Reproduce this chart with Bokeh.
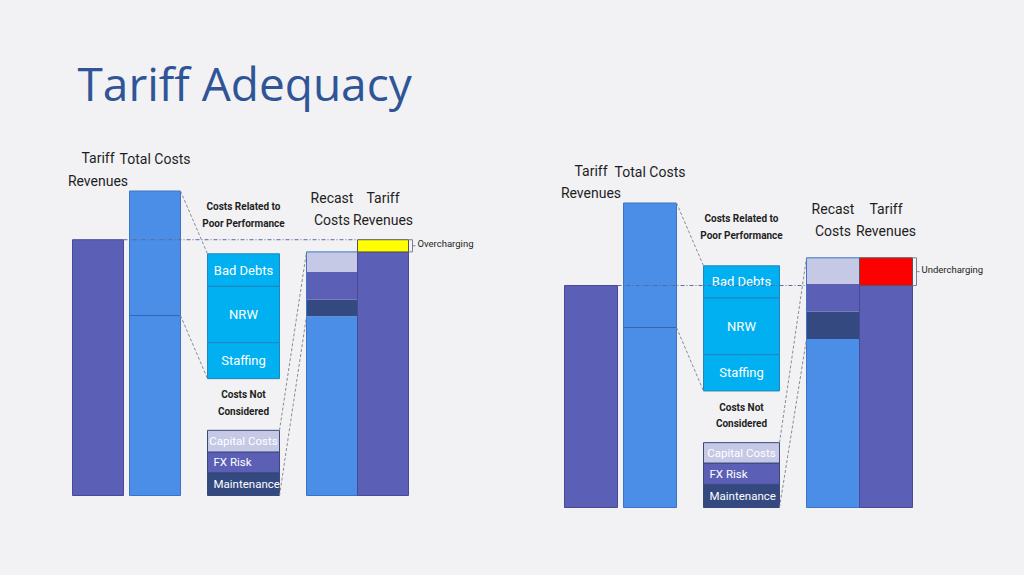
from bokeh.plotting import figure
from bokeh.models import Range1d
from bokeh.core.properties import value
from bokeh.embed import file_html
from bokeh.resources import INLINE

# ---------------- data (share of total costs, %) ----------------
title = "Tariff Adequacy"
column_labels = [["Tariff", "Revenues"], ["Total Costs"], ["Recast", "Costs"], ["Tariff", "Revenues"]]
group_titles = [["Costs Related to", "Poor Performance"], ["Costs Not", "Considered"]]
poor_labels = ["Bad Debts", "NRW", "Staffing"]                 # top -> bottom
not_considered_labels = ["Capital Costs", "FX Risk", "Maintenance"]  # top -> bottom
gap_labels = ["Overcharging", "Undercharging"]

tariff_revenues = [84.0, 72.9]
total_costs = [100.0, 100.0]
efficient_costs = [59.1, 59.1]
poor_left = [10.7, 18.5, 11.8]
poor_right = [10.6, 18.6, 11.9]
not_considered_left = [7.1, 6.8, 7.5]
not_considered_right = [6.7, 7.0, 7.6]
# recast costs, bottom -> top: efficient, maintenance, FX risk, capital costs
recast_left = [58.9, 5.5, 9.0, 6.6]
recast_right = [55.3, 9.1, 9.0, 8.6]

# ---------------- styling / layout ----------------
BG = "#f2f2f4"
PURPLE = "#5b5fb6"
BLUE = "#4a8ee8"
CYAN = "#00b0f0"
LAV = "#c6c9e6"
DARK = "#34497f"
TITLE_C = "#2f5597"
TXT = "#1e1e1e"
FONT = value("Roboto")
S = 3.045  # px per %

panels = [
    dict(tar=(72, 123), tot=(129, 180), box=(207, 279), rec=(306, 357), tr2=(357, 408),
         base=495, poor_top=253.3, head1=(157, 180), head2=(197, 219), grp1=(206, 223), grp2=(394, 411),
         poor=poor_left, nc=not_considered_left, rec_vals=recast_left, gap_color="#ffff00", gap_label=0),
    dict(tar=(564, 617), tot=(623, 676), box=(703, 779), rec=(806, 859), tr2=(859, 912),
         base=507, poor_top=265.3, head1=(170, 192), head2=(208, 230), grp1=(218, 235), grp2=(407, 423),
         poor=poor_right, nc=not_considered_right, rec_vals=recast_right, gap_color="#ff0000", gap_label=1),
]

p = figure(width=1024, height=575, output_backend="svg", toolbar_location=None,
           x_range=Range1d(0, 1024), y_range=Range1d(575, 0),
           x_axis_type=None, y_axis_type=None, min_border=0,
           background_fill_color=BG, border_fill_color=BG, outline_line_color=None)
p.grid.visible = False


def quad(l, r, top, bottom, color, line_color=None):
    p.quad(left=[l], right=[r], top=[top], bottom=[bottom], fill_color=color,
           line_color=line_color, line_width=1)


def txt(x, y, s, size, color=TXT, align="center", style="normal", font=FONT):
    p.text(x=[x], y=[y], text=[s], text_font=font, text_font_size=f"{size}px",
           text_color=color, text_align=align, text_baseline="middle", text_font_style=style)


p.text(x=[77], y=[82.5], text=[title], text_font=value("Open Sans"), text_font_size="46px",
       text_color=TITLE_C, text_align="left", text_baseline="middle")

for i, L in enumerate(panels):
    base = L["base"]
    yv = lambda v: base - v * S
    tar_top = yv(tariff_revenues[i])
    tot_top = yv(total_costs[i])
    eff_top = yv(efficient_costs[i])

    # tariff revenues
    quad(*L["tar"], tar_top, base, PURPLE, "#474b96")
    # total costs (two parts)
    quad(*L["tot"], tot_top, base, BLUE, "#3b74c4")
    p.segment(x0=[L["tot"][0]], x1=[L["tot"][1]], y0=[eff_top], y1=[eff_top], line_color="#3566b0", line_width=1)

    # costs related to poor performance box (top -> bottom)
    y = L["poor_top"]
    for lab, v in zip(poor_labels, L["poor"]):
        y2 = y + v * S
        quad(*L["box"], y, y2, CYAN, "#1f86bf")
        txt((L["box"][0] + L["box"][1]) / 2, (y + y2) / 2, lab, 13, color="white")
        y = y2
    poor_bottom = y

    # costs not considered box (drawn bottom up)
    nc_cols = [LAV, PURPLE, DARK]
    y = base
    nc_top = base - sum(L["nc"]) * S
    for lab, v, c in reversed(list(zip(not_considered_labels, L["nc"], nc_cols))):
        y2 = y - v * S
        quad(*L["box"], y2, y, c, "#3a4a7a")
        if lab == "Capital Costs":
            txt((L["box"][0] + L["box"][1]) / 2, (y + y2) / 2, lab, 11.5, color="white")
        else:
            txt(L["box"][0] + 6, (y + y2) / 2, lab, 11.5, color="white", align="left")
        y = y2

    # recast costs
    rec_cols = [BLUE, DARK, PURPLE, LAV]
    y = base
    for k, (v, c) in enumerate(zip(L["rec_vals"], rec_cols)):
        y2 = y - v * S
        quad(*L["rec"], y2, y, c, None)
        if k == 0:
            eff_rec_top = y2
        y = y2
    rec_top = y
    p.quad(left=[L["rec"][0]], right=[L["rec"][1]], top=[rec_top], bottom=[base],
           fill_color=None, line_color="#3b74c4", line_width=1)

    # tariff revenues vs recast
    lo = min(tar_top, rec_top)
    hi = max(tar_top, rec_top)
    quad(*L["tr2"], hi if i == 0 else tar_top, base, PURPLE, "#474b96")
    quad(*L["tr2"], lo, hi, L["gap_color"], "#555555")

    # bracket
    bx = L["tr2"][1]
    p.multi_line(xs=[[bx, bx + 4, bx + 4, bx], [bx + 4, bx + 7]],
                 ys=[[lo, lo, hi, hi], [(lo + hi) / 2, (lo + hi) / 2]],
                 line_color="#7f7f8f", line_width=1)
    txt(bx + 9, (lo + hi) / 2 - 2, gap_labels[L["gap_label"]], 9.5, align="left")

    # dotted line at tariff revenue level
    p.segment(x0=[L["tar"][1]], x1=[L["rec"][0] if i == 1 else L["tr2"][0]], y0=[tar_top], y1=[tar_top],
              line_color="#5a6aa0", line_width=1, line_dash="4 2 1 2")

    # dashed connectors
    xs = [[L["tot"][1], L["box"][0]], [L["tot"][1], L["box"][0]],
          [L["box"][1], L["rec"][0]], [L["box"][1], L["rec"][0]]]
    ys = [[tot_top, L["poor_top"]], [eff_top, poor_bottom],
          [nc_top, rec_top], [base, eff_rec_top]]
    p.multi_line(xs=xs, ys=ys, line_color="#8a8a95", line_width=1, line_dash="3 2")

    # headings
    cx = lambda r: (r[0] + r[1]) / 2
    h1, h2 = L["head1"]
    txt(cx(L["tar"]), h1, column_labels[0][0], 14)
    txt(cx(L["tar"]), h2, column_labels[0][1], 14)
    txt(cx(L["tot"]), h1 + 1, column_labels[1][0], 14)
    r1, r2 = L["head2"]
    txt(cx(L["rec"]), r1, column_labels[2][0], 14)
    txt(cx(L["rec"]), r2, column_labels[2][1], 14)
    txt(cx(L["tr2"]), r1, column_labels[3][0], 14)
    txt(cx(L["tr2"]), r2, column_labels[3][1], 14)
    g1, g2 = L["grp1"]
    txt(cx(L["box"]), g1, group_titles[0][0], 10, style="bold")
    txt(cx(L["box"]), g2, group_titles[0][1], 10, style="bold")
    n1, n2 = L["grp2"]
    txt(cx(L["box"]), n1, group_titles[1][0], 10, style="bold")
    txt(cx(L["box"]), n2, group_titles[1][1], 10, style="bold")

html = file_html(p, INLINE)
html = html.replace("<body>", '<body style="background:%s;">' % BG)
open("out.html", "w").write(html)
